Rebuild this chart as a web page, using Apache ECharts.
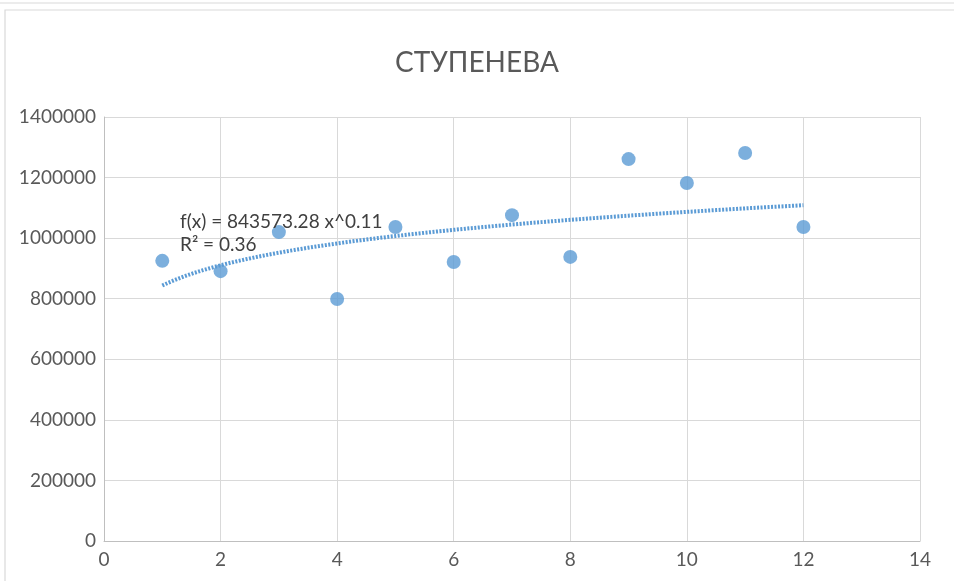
<!DOCTYPE html>
<html><head><meta charset="utf-8">
<script src="https://cdn.jsdelivr.net/npm/echarts@6/dist/echarts.min.js"></script>
<style>html,body{margin:0;padding:0;background:#fff}#c{width:954px;height:581px}</style>
</head><body><div id="c"></div>
<script>
const titleText = 'СТУПЕНЕВА';
const xValues = [1,2,3,4,5,6,7,8,9,10,11,12];
const yValues = [925000,891000,1020000,799000,1037000,921000,1076000,938000,1261000,1182000,1281000,1037000];
const trendA = 843573.28;
const trendB = 0.11;
const equationLines = ['f(x) = 843573.28 x^0.11', 'R² = 0.36'];

const points = xValues.map((x,i)=>[x, yValues[i]]);
const trend = [];
for (let x = 1; x <= 12.0001; x += 0.1) trend.push([x, trendA*Math.pow(x, trendB)]);

const chart = echarts.init(document.getElementById('c'), null, {renderer:'canvas'});
const font = 'Lato, Carlito, "Liberation Sans", sans-serif';
chart.setOption({
  backgroundColor:'#fff',
  animation:false,
  title:{text:titleText,left:'center',top:44,textStyle:{fontFamily:font,fontSize:28,fontWeight:'normal',color:'#595959'}},
  grid:{left:104,right:34,top:117,bottom:40,containLabel:false},
  xAxis:{type:'value',min:0,max:14,interval:2,
    axisLine:{show:true,onZero:false,lineStyle:{color:'#bfbfbf',width:1}},
    axisTick:{show:false},
    splitLine:{show:true,lineStyle:{color:'#d9d9d9',width:1}},
    axisLabel:{fontFamily:font,fontSize:19,color:'#595959',margin:9}},
  yAxis:{type:'value',min:0,max:1400000,interval:200000,
    axisLine:{show:true,lineStyle:{color:'#bfbfbf',width:1}},
    axisTick:{show:false},
    splitLine:{show:true,lineStyle:{color:'#d9d9d9',width:1}},
    axisLabel:{fontFamily:font,fontSize:19,color:'#595959',margin:8,formatter:v=>String(v)}},
  series:[
    {type:'line',data:trend,showSymbol:false,symbol:'none',smooth:false,
     lineStyle:{color:'#5b9bd5',width:4,type:[2,1.5]},z:2,silent:true},
    {type:'scatter',data:points,symbol:'circle',symbolSize:14,
     itemStyle:{color:'#5b9bd5',borderColor:'#5b9bd5',borderWidth:0},z:3}
  ],
  graphic:[
    {type:'rect',shape:{x:5,y:10,width:960,height:600},style:{fill:'none',stroke:'#d9d9d9',lineWidth:1.2},silent:true},
    {type:'line',shape:{x1:0,y1:3,x2:954,y2:3},style:{stroke:'#d9d9d9',lineWidth:1.2},silent:true},
    {type:'text',left:180,top:210,style:{text:equationLines.join('\n'),fontFamily:font,fontSize:19,lineHeight:23,fill:'#404040'},z:10}
  ]
});
</script></body></html>
